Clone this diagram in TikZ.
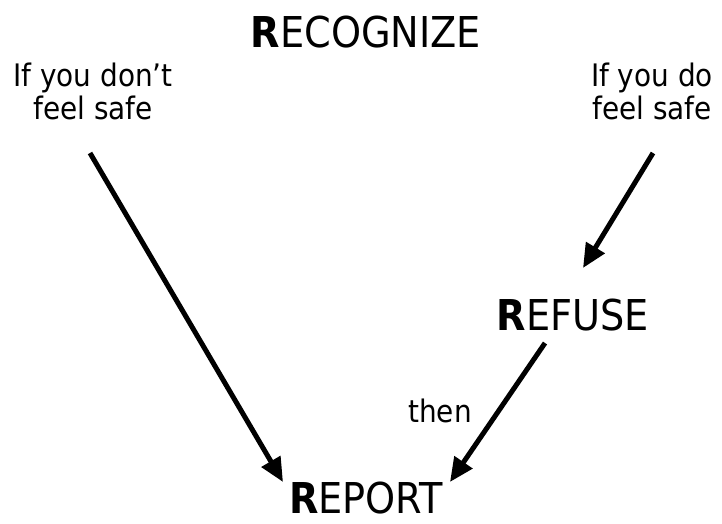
\documentclass[tikz,border=0pt]{standalone}
\usepackage{fontspec}
\setmainfont{DejaVu Sans Condensed}
\usetikzlibrary{arrows.meta}

\tikzset{
  big/.style={font=\fontsize{42.5}{44}\selectfont, inner sep=0pt, anchor=base},
  small/.style={font=\fontsize{31}{33}\selectfont, inner sep=0pt, align=center, anchor=north},
  flow/.style={-{Triangle[length=24pt,width=21pt]}, line width=5pt}
}

\begin{document}
\begin{tikzpicture}[x=1pt, y=-1pt]
      \useasboundingbox (0,0) rectangle (722,523);
%      \draw [help lines] (0,0) grid [step=50] (722,523);

      \node [big] (recognize) at (366,47) {\textbf{R}ECOGNIZE};
      \node [small] (notsafe) at (93,63) {If you don’t\\feel safe};
      \node [small] (safe) at (652,63) {If you do\\feel safe};
      \node [big] (refuse) at (573,330) {\textbf{R}EFUSE};
      \node [big] (report) at (366,513) {\textbf{R}EPORT};
      \node [small, anchor=base] (then) at (440,422) {then};

      \coordinate (a1) at (90,153);
      \coordinate (a2) at (283,482);
      \coordinate (b1) at (653,153);
      \coordinate (b2) at (583,268);
      \coordinate (c1) at (545,343);
      \coordinate (c2) at (450,482);

      \draw [flow] (a1) -- (a2);
      \draw [flow] (b1) -- (b2);
      \draw [flow] (c1) -- (c2);
  \end{tikzpicture}
\end{document}
